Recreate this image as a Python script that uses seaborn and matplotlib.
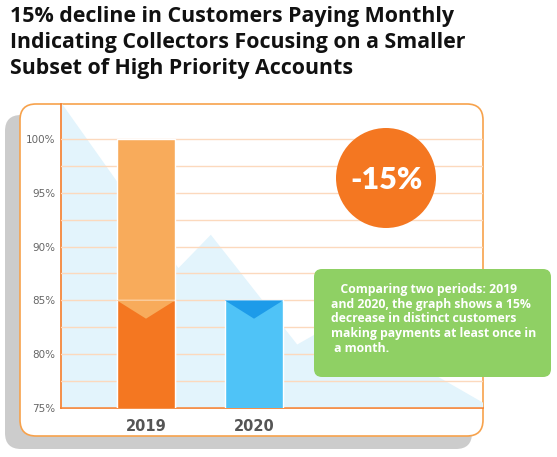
import numpy as np
import pandas as pd
import seaborn as sns
import matplotlib.pyplot as plt
from matplotlib.patches import FancyBboxPatch, Circle, Polygon, Rectangle

sns.set_style("white")
plt.rcParams['font.family'] = ['Open Sans', 'DejaVu Sans']

# data
years = ["2019", "2020"]
share = [100, 85]           # customers paying monthly, % of 2019
common = [85]               # part of 2019 bar kept in 2020
yticks = [75, 80, 85, 90, 95, 100]
change_label = "-15%"
title = ("15% decline in Customers Paying Monthly\n"
         "Indicating Collectors Focusing on a Smaller\n"
         "Subset of High Priority Accounts")
note = ("   Comparing two periods: 2019\n"
        "and 2020, the graph shows a 15%\n"
        "decrease in distinct customers\n"
        "making payments at least once in\n"
        " a month.")
# background "mountain" outline (x in category units, y in %)
hill_x = [-0.78, 0.30, 0.60, 1.40, 1.75, 2.60, 3.12, 3.12, -0.78]
hill_y = [103.3, 88.0, 91.1, 80.9, 82.9, 78.5, 75.5, 75.0, 75.0]

W, H = 557, 457
fig = plt.figure(figsize=(W / 100, H / 100), dpi=100)


def px(x, y):
    return x / W, 1 - y / H


def fbox(x0, y0, x1, y1, r, **kw):
    # box given in pixels (top-left origin), drawn in inches
    p = FancyBboxPatch((x0 / 100, (H - y1) / 100), (x1 - x0) / 100, (y1 - y0) / 100,
                       boxstyle=f"round,pad=0,rounding_size={r / 100}",
                       transform=fig.dpi_scale_trans, **kw)
    fig.patches.append(p)
    return p


# shadow and frame
fbox(5, 115, 472, 449, 16, facecolor="#cccccc", edgecolor="none", zorder=0)
fbox(20, 104, 483, 436, 16, facecolor="white", edgecolor="#f7a24c", lw=1.2, zorder=1)

l, b = px(61, 408)
r, t = px(483, 104)
ax = fig.add_axes([l, b, r - l, t - b], zorder=2)
ax.set_facecolor("none")

ax.fill(hill_x, hill_y, color="#e3f4fc", lw=0, zorder=0)

df = pd.DataFrame({"year": years, "share": share})
sns.barplot(data=df, x="year", y="share", hue="year",
            palette=["#f8ab5b", "#4fc3f7"], width=0.54, legend=False,
            saturation=1, ax=ax, zorder=3)
bars = [p for p in ax.patches if isinstance(p, Rectangle)]
sns.barplot(x=years[:1], y=common, order=years, color="#f47721",
            width=0.54, saturation=1, ax=ax, zorder=3)

# chevrons at the 85% level
depth = 1.7
for bar, col in zip(bars, ["#f8ab5b", "#1d9be9"]):
    x0, w = bar.get_x(), bar.get_width()
    top = 85
    ax.add_patch(Polygon([(x0, top), (x0 + w, top), (x0 + w / 2, top - depth)],
                         closed=True, facecolor=col, edgecolor="none", zorder=4))

ax.set_xlim(-0.787, 3.12)
ax.set_ylim(75, 103.25)
ax.set_yticks(yticks)
ax.set_yticklabels([f"{v}%" for v in yticks])
ax.set_yticks(np.arange(77.5, 100.1, 5), minor=True)
ax.grid(True, which="both", axis="y", color="#fcd9bd", lw=1)
ax.xaxis.grid(False)
ax.set_axisbelow(False)
ax.set_xlabel("")
ax.set_ylabel("")
ax.tick_params(axis="y", which="both", length=0, pad=4, labelsize=7.5, labelcolor="#666666")
ax.tick_params(axis="x", length=0, pad=8, labelsize=10.5, labelcolor="#555555")
for lab in ax.get_xticklabels():
    lab.set_fontweight("bold")
    lab.set_family(["DejaVu Sans"])
for lab in ax.get_yticklabels():
    lab.set_family(["DejaVu Sans"])
for s in ["top", "right"]:
    ax.spines[s].set_visible(False)
for s in ["left", "bottom"]:
    ax.spines[s].set_color("#f47c2a")
    ax.spines[s].set_linewidth(1.2)

# -15% badge
fig.patches.append(Circle((386 / 100, (H - 178) / 100), 0.5,
                          transform=fig.dpi_scale_trans,
                          facecolor="#f47721", edgecolor="none", zorder=5))
cx, cy = px(386, 180)
fig.text(cx, cy, change_label, ha="center", va="center", color="white",
         fontsize=22, fontweight="heavy", family=["Lato", "DejaVu Sans"], zorder=6)

# note box
fbox(314, 269, 551, 377, 8, facecolor="#8fd064", edgecolor="none", zorder=7)
nx, ny = px(331, 283)
fig.text(nx, ny, note, ha="left", va="top", color="white", fontsize=8.8,
         fontweight="bold", linespacing=1.17, zorder=8)

# title
tx, ty = px(10, 6)
fig.text(tx, ty, title, ha="left", va="top", color="#111111", fontsize=15.4,
         fontweight="bold", linespacing=1.31)

fig.savefig("out.png", dpi=100)
